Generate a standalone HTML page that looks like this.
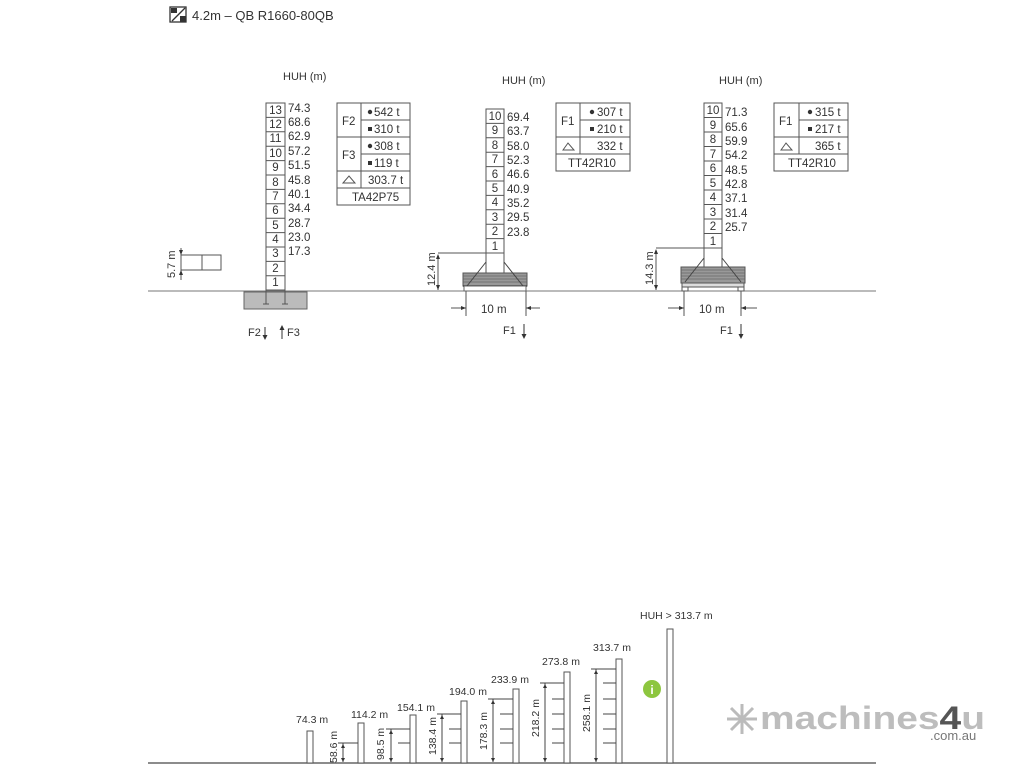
<!DOCTYPE html>
<html><head><meta charset="utf-8"><style>
html,body{margin:0;padding:0;background:#fff}
svg{display:block}
text{font-family:"Liberation Sans",sans-serif;fill:#333}
</style></head><body>
<svg width="1024" height="768" viewBox="0 0 1024 768" xmlns="http://www.w3.org/2000/svg">
<!-- header -->
<rect x="170" y="7" width="16" height="15" fill="none" stroke="#333" stroke-width="1.3"/>
<rect x="171" y="8" width="6" height="5" fill="#333"/>
<rect x="180" y="16" width="6" height="6" fill="#333"/>
<line x1="172" y1="21" x2="185" y2="8" stroke="#333" stroke-width="1.3"/>
<text x="192" y="20" font-size="13">4.2m – QB  R1660-80QB</text>

<!-- ground -->
<line x1="148" y1="291" x2="876" y2="291" stroke="#777" stroke-width="1"/>

<!-- LEFT TOWER -->
<text x="283" y="80" font-size="11">HUH (m)</text>
<g stroke="#555" stroke-width="1" fill="none">
<rect x="266" y="103" width="19" height="187"/>
<line x1="266" y1="117.4" x2="285" y2="117.4"/><line x1="266" y1="131.8" x2="285" y2="131.8"/>
<line x1="266" y1="146.2" x2="285" y2="146.2"/><line x1="266" y1="160.6" x2="285" y2="160.6"/>
<line x1="266" y1="175" x2="285" y2="175"/><line x1="266" y1="189.4" x2="285" y2="189.4"/>
<line x1="266" y1="203.8" x2="285" y2="203.8"/><line x1="266" y1="218.2" x2="285" y2="218.2"/>
<line x1="266" y1="232.6" x2="285" y2="232.6"/><line x1="266" y1="247" x2="285" y2="247"/>
<line x1="266" y1="261.4" x2="285" y2="261.4"/><line x1="266" y1="275.8" x2="285" y2="275.8"/>
</g>
<rect x="244" y="292" width="63" height="17" fill="#bbb" stroke="#666"/>
<line x1="266" y1="290" x2="266" y2="304" stroke="#555"/><line x1="285" y1="290" x2="285" y2="304" stroke="#555"/>
<line x1="263" y1="304" x2="269" y2="304" stroke="#555"/><line x1="282" y1="304" x2="288" y2="304" stroke="#555"/>
<g font-size="11.5" text-anchor="middle">
<text x="275.5" y="114">13</text><text x="275.5" y="128">12</text><text x="275.5" y="142">11</text><text x="275.5" y="157">10</text>
<text x="275.5" y="171">9</text><text x="275.5" y="186">8</text><text x="275.5" y="200">7</text><text x="275.5" y="214">6</text>
<text x="275.5" y="229">5</text><text x="275.5" y="243">4</text><text x="275.5" y="257">3</text><text x="275.5" y="272">2</text><text x="275.5" y="286">1</text>
</g>
<g font-size="11.5">
<text x="288" y="112">74.3</text><text x="288" y="126">68.6</text><text x="288" y="140">62.9</text><text x="288" y="155">57.2</text>
<text x="288" y="169">51.5</text><text x="288" y="184">45.8</text><text x="288" y="198">40.1</text><text x="288" y="212">34.4</text>
<text x="288" y="227">28.7</text><text x="288" y="241">23.0</text><text x="288" y="255">17.3</text>
</g>
<!-- left table -->
<g stroke="#555" fill="none">
<rect x="337" y="103" width="73" height="102"/>
<line x1="361" y1="103" x2="361" y2="188"/>
<line x1="361" y1="120" x2="410" y2="120"/><line x1="337" y1="137" x2="410" y2="137"/>
<line x1="361" y1="154" x2="410" y2="154"/><line x1="337" y1="171" x2="410" y2="171"/>
<line x1="337" y1="188" x2="410" y2="188"/>
</g>
<g font-size="11.5">
<text x="342" y="125">F2</text><text x="342" y="159">F3</text>
<circle cx="370" cy="112" r="2.2" fill="#333"/><text x="374" y="116">542 t</text>
<rect x="368" y="127" width="4" height="4" fill="#333"/><text x="374" y="133">310 t</text>
<circle cx="370" cy="146" r="2.2" fill="#333"/><text x="374" y="150">308 t</text>
<rect x="368" y="161" width="4" height="4" fill="#333"/><text x="374" y="167">119 t</text>
<text x="368" y="184">303.7 t</text>
<text x="352" y="201">TA42P75</text>
</g>
<path d="M343 183 L349 176 L355 183 Z" fill="none" stroke="#555"/>
<!-- 5.7 m -->
<g stroke="#555" fill="none">
<rect x="181" y="255" width="40" height="15"/><line x1="202" y1="255" x2="202" y2="270"/>
<line x1="181" y1="248" x2="181" y2="280"/>
</g>
<path d="M181 255 l-2 -5 h4z M181 270 l-2 5 h4z" fill="#333"/>
<text transform="translate(175,278) rotate(-90)" font-size="11">5.7 m</text>
<text x="248" y="336" font-size="11">F2</text>
<text x="287" y="336" font-size="11">F3</text>
<line x1="265" y1="327" x2="265" y2="339" stroke="#333"/><path d="M265 340 l-2.5 -5 h5z" fill="#333"/>
<line x1="282" y1="327" x2="282" y2="339" stroke="#333"/><path d="M282 325 l-2.5 5 h5z" fill="#333"/>

<!-- MIDDLE TOWER -->
<text x="502" y="84" font-size="11">HUH (m)</text>
<g stroke="#555" fill="none">
<rect x="486" y="109" width="18" height="144"/>
<line x1="486" y1="123.4" x2="504" y2="123.4"/><line x1="486" y1="137.8" x2="504" y2="137.8"/>
<line x1="486" y1="152.2" x2="504" y2="152.2"/><line x1="486" y1="166.6" x2="504" y2="166.6"/>
<line x1="486" y1="181" x2="504" y2="181"/><line x1="486" y1="195.4" x2="504" y2="195.4"/>
<line x1="486" y1="209.8" x2="504" y2="209.8"/><line x1="486" y1="224.2" x2="504" y2="224.2"/>
<line x1="486" y1="238.6" x2="504" y2="238.6"/>
<line x1="486" y1="253" x2="486" y2="286"/><line x1="504" y1="253" x2="504" y2="286"/>
<line x1="438" y1="253" x2="504" y2="253"/>
</g>
<rect x="463" y="273" width="64" height="13" fill="#999" stroke="#555"/>
<g stroke="#666" stroke-width="0.7"><line x1="463" y1="276" x2="527" y2="276"/><line x1="463" y1="279" x2="527" y2="279"/><line x1="463" y1="282" x2="527" y2="282"/></g>
<line x1="463" y1="286" x2="527" y2="286" stroke="#333" stroke-width="1.5"/>
<rect x="464" y="286" width="62" height="5" fill="#fff" stroke="#666"/>
<line x1="486" y1="262" x2="467" y2="286" stroke="#444"/><line x1="504" y1="262" x2="523" y2="286" stroke="#444"/>
<g font-size="11.5" text-anchor="middle">
<text x="495" y="120">10</text><text x="495" y="134">9</text><text x="495" y="149">8</text><text x="495" y="163">7</text>
<text x="495" y="178">6</text><text x="495" y="192">5</text><text x="495" y="206">4</text><text x="495" y="221">3</text>
<text x="495" y="235">2</text><text x="495" y="250">1</text>
</g>
<g font-size="11.5">
<text x="507" y="121">69.4</text><text x="507" y="135">63.7</text><text x="507" y="150">58.0</text><text x="507" y="164">52.3</text>
<text x="507" y="178">46.6</text><text x="507" y="193">40.9</text><text x="507" y="207">35.2</text><text x="507" y="221">29.5</text>
<text x="507" y="236">23.8</text>
</g>
<line x1="438" y1="255" x2="438" y2="290" stroke="#555"/>
<path d="M438 254 l-2 5 h4z M438 290 l-2 -5 h4z" fill="#333"/>
<text transform="translate(435,286) rotate(-90)" font-size="11">12.4 m</text>
<g stroke="#555"><line x1="466" y1="291" x2="466" y2="316"/><line x1="526" y1="291" x2="526" y2="316"/>
<line x1="451" y1="308" x2="466" y2="308"/><line x1="526" y1="308" x2="540" y2="308"/></g>
<path d="M466 308 l-5 -2 v4z M526 308 l5 -2 v4z" fill="#333"/>
<text x="481" y="313" font-size="11.5">10 m</text>
<text x="503" y="334" font-size="11">F1</text>
<line x1="524" y1="324" x2="524" y2="337" stroke="#333"/><path d="M524 339 l-2.5 -5 h5z" fill="#333"/>
<!-- middle table -->
<g stroke="#555" fill="none">
<rect x="556" y="103" width="74" height="68"/>
<line x1="580" y1="103" x2="580" y2="154"/>
<line x1="580" y1="120" x2="630" y2="120"/><line x1="556" y1="137" x2="630" y2="137"/><line x1="556" y1="154" x2="630" y2="154"/>
</g>
<g font-size="11.5">
<text x="561" y="125">F1</text>
<circle cx="592" cy="112" r="2.2" fill="#333"/><text x="597" y="116">307 t</text>
<rect x="590" y="127" width="4" height="4" fill="#333"/><text x="597" y="133">210 t</text>
<text x="597" y="150">332 t</text>
<text x="568" y="167">TT42R10</text>
</g>
<path d="M563 150 L568 143 L574 150 Z" fill="none" stroke="#555"/>

<!-- RIGHT TOWER -->
<text x="719" y="84" font-size="11">HUH (m)</text>
<g stroke="#555" fill="none">
<rect x="704" y="103" width="18" height="145"/>
<line x1="704" y1="117.5" x2="722" y2="117.5"/><line x1="704" y1="132" x2="722" y2="132"/>
<line x1="704" y1="146.5" x2="722" y2="146.5"/><line x1="704" y1="161" x2="722" y2="161"/>
<line x1="704" y1="175.5" x2="722" y2="175.5"/><line x1="704" y1="190" x2="722" y2="190"/>
<line x1="704" y1="204.5" x2="722" y2="204.5"/><line x1="704" y1="219" x2="722" y2="219"/>
<line x1="704" y1="233.5" x2="722" y2="233.5"/>
<line x1="704" y1="248" x2="704" y2="282"/><line x1="722" y1="248" x2="722" y2="282"/>
<line x1="656" y1="248" x2="722" y2="248"/>
</g>
<rect x="681" y="267" width="64" height="16" fill="#999" stroke="#555"/>
<g stroke="#666" stroke-width="0.7"><line x1="681" y1="270" x2="745" y2="270"/><line x1="681" y1="273" x2="745" y2="273"/><line x1="681" y1="276" x2="745" y2="276"/><line x1="681" y1="279" x2="745" y2="279"/></g>
<rect x="682" y="283" width="62" height="4" fill="#ddd" stroke="#555"/>
<rect x="682" y="287" width="6" height="4" fill="#fff" stroke="#555"/><rect x="738" y="287" width="6" height="4" fill="#fff" stroke="#555"/>
<line x1="704" y1="258" x2="685" y2="282" stroke="#444"/><line x1="722" y1="258" x2="741" y2="282" stroke="#444"/>
<g font-size="11.5" text-anchor="middle">
<text x="713" y="114">10</text><text x="713" y="129">9</text><text x="713" y="143">8</text><text x="713" y="158">7</text>
<text x="713" y="172">6</text><text x="713" y="187">5</text><text x="713" y="201">4</text><text x="713" y="216">3</text>
<text x="713" y="230">2</text><text x="713" y="245">1</text>
</g>
<g font-size="11.5">
<text x="725" y="116">71.3</text><text x="725" y="131">65.6</text><text x="725" y="145">59.9</text><text x="725" y="159">54.2</text>
<text x="725" y="174">48.5</text><text x="725" y="188">42.8</text><text x="725" y="202">37.1</text><text x="725" y="217">31.4</text>
<text x="725" y="231">25.7</text>
</g>
<line x1="656" y1="250" x2="656" y2="290" stroke="#555"/>
<path d="M656 249 l-2 5 h4z M656 290 l-2 -5 h4z" fill="#333"/>
<text transform="translate(653,285) rotate(-90)" font-size="11">14.3 m</text>
<g stroke="#555"><line x1="684" y1="291" x2="684" y2="316"/><line x1="741" y1="291" x2="741" y2="316"/>
<line x1="668" y1="308" x2="684" y2="308"/><line x1="741" y1="308" x2="757" y2="308"/></g>
<path d="M684 308 l-5 -2 v4z M741 308 l5 -2 v4z" fill="#333"/>
<text x="699" y="313" font-size="11.5">10 m</text>
<text x="720" y="334" font-size="11">F1</text>
<line x1="741" y1="324" x2="741" y2="337" stroke="#333"/><path d="M741 339 l-2.5 -5 h5z" fill="#333"/>
<g stroke="#555" fill="none">
<rect x="774" y="103" width="74" height="68"/>
<line x1="799" y1="103" x2="799" y2="154"/>
<line x1="799" y1="120" x2="848" y2="120"/><line x1="774" y1="137" x2="848" y2="137"/><line x1="774" y1="154" x2="848" y2="154"/>
</g>
<g font-size="11.5">
<text x="779" y="125">F1</text>
<circle cx="810" cy="112" r="2.2" fill="#333"/><text x="815" y="116">315 t</text>
<rect x="808" y="127" width="4" height="4" fill="#333"/><text x="815" y="133">217 t</text>
<text x="815" y="150">365 t</text>
<text x="788" y="167">TT42R10</text>
</g>
<path d="M781 150 L786 143 L792 150 Z" fill="none" stroke="#555"/>

<!-- BOTTOM -->
<line x1="148" y1="763" x2="876" y2="763" stroke="#666" stroke-width="1.5"/>
<g stroke="#555" fill="#fff">
<rect x="307" y="731" width="6" height="32"/>
<rect x="358" y="723" width="6" height="40"/>
<rect x="410" y="715" width="6" height="48"/>
<rect x="461" y="701" width="6" height="62"/>
<rect x="513" y="689" width="6" height="74"/>
<rect x="564" y="672" width="6" height="91"/>
<rect x="616" y="659" width="6" height="104"/>
<rect x="667" y="629" width="6" height="134"/>
</g>
<g font-size="10.5">
<text x="296" y="723">74.3 m</text>
<text x="351" y="718">114.2 m</text>
<text x="397" y="711">154.1 m</text>
<text x="449" y="695">194.0 m</text>
<text x="491" y="683">233.9 m</text>
<text x="542" y="665">273.8 m</text>
<text x="593" y="651">313.7 m</text>
<text x="640" y="619">HUH &gt; 313.7 m</text>
</g>
<g stroke="#444" stroke-width="1">
<line x1="343" y1="743" x2="343" y2="762"/><line x1="338" y1="743" x2="358" y2="743"/>
<line x1="391" y1="729" x2="391" y2="762"/><line x1="386" y1="729" x2="410" y2="729"/><line x1="398" y1="743" x2="410" y2="743"/>
<line x1="442" y1="714" x2="442" y2="762"/><line x1="437" y1="714" x2="461" y2="714"/><line x1="449" y1="729" x2="461" y2="729"/><line x1="449" y1="743" x2="461" y2="743"/>
<line x1="493" y1="699" x2="493" y2="762"/><line x1="488" y1="699" x2="513" y2="699"/><line x1="500" y1="714" x2="513" y2="714"/><line x1="500" y1="729" x2="513" y2="729"/><line x1="500" y1="743" x2="513" y2="743"/>
<line x1="545" y1="683" x2="545" y2="762"/><line x1="540" y1="683" x2="564" y2="683"/><line x1="552" y1="699" x2="564" y2="699"/><line x1="552" y1="714" x2="564" y2="714"/><line x1="552" y1="729" x2="564" y2="729"/><line x1="552" y1="743" x2="564" y2="743"/>
<line x1="596" y1="669" x2="596" y2="762"/><line x1="591" y1="669" x2="616" y2="669"/><line x1="603" y1="683" x2="616" y2="683"/><line x1="603" y1="699" x2="616" y2="699"/><line x1="603" y1="714" x2="616" y2="714"/><line x1="603" y1="729" x2="616" y2="729"/><line x1="603" y1="743" x2="616" y2="743"/>
</g>
<g fill="#333">
<path d="M343 744 l-2 4 h4z M343 762 l-2 -4 h4z"/>
<path d="M391 730 l-2 4 h4z M391 762 l-2 -4 h4z"/>
<path d="M442 715 l-2 4 h4z M442 762 l-2 -4 h4z"/>
<path d="M493 700 l-2 4 h4z M493 762 l-2 -4 h4z"/>
<path d="M545 684 l-2 4 h4z M545 762 l-2 -4 h4z"/>
<path d="M596 670 l-2 4 h4z M596 762 l-2 -4 h4z"/>
</g>
<g font-size="10.5">
<text transform="translate(337,763) rotate(-90)">58.6 m</text>
<text transform="translate(384,760) rotate(-90)">98.5 m</text>
<text transform="translate(436,755) rotate(-90)">138.4 m</text>
<text transform="translate(487,750) rotate(-90)">178.3 m</text>
<text transform="translate(539,737) rotate(-90)">218.2 m</text>
<text transform="translate(590,732) rotate(-90)">258.1 m</text>
</g>
<circle cx="652" cy="689" r="9" fill="#8dc63f"/>
<text x="652" y="694" font-size="12" font-weight="bold" text-anchor="middle" style="fill:#fff">i</text>

<!-- logo -->
<g stroke="#bbb" stroke-width="3">
<line x1="742" y1="704" x2="742" y2="734"/><line x1="727" y1="719" x2="757" y2="719"/>
<line x1="731" y1="708" x2="753" y2="730"/><line x1="753" y1="708" x2="731" y2="730"/>
</g>
<text x="760" y="729" font-size="32" font-weight="bold" style="fill:#bdbdbd" textLength="225" lengthAdjust="spacingAndGlyphs">machines<tspan style="fill:#555">4</tspan>u</text>
<text x="930" y="740" font-size="13" style="fill:#777">.com.au</text>
</svg>
</body></html>
